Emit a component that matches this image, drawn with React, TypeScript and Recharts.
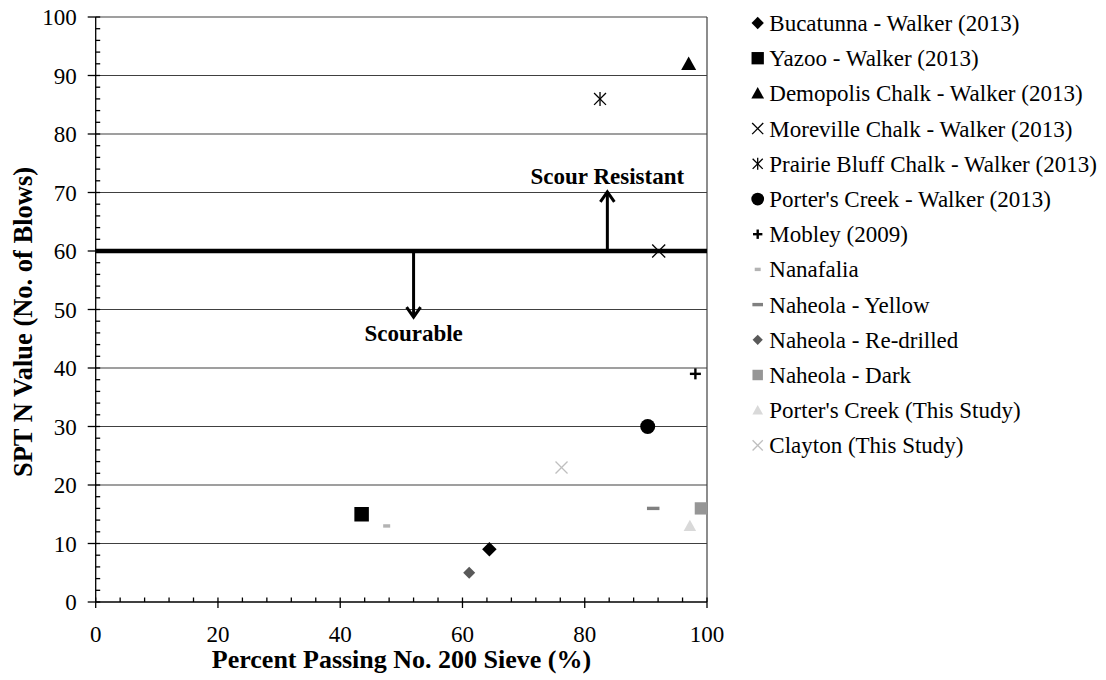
import { ScatterChart, Scatter, XAxis, YAxis, ReferenceLine } from "recharts";

// series names, in legend order
const seriesNames = [
  "Bucatunna - Walker (2013)",
  "Yazoo - Walker (2013)",
  "Demopolis Chalk - Walker (2013)",
  "Moreville Chalk - Walker (2013)",
  "Prairie Bluff Chalk - Walker (2013)",
  "Porter's Creek - Walker (2013)",
  "Mobley (2009)",
  "Nanafalia",
  "Naheola - Yellow",
  "Naheola - Re-drilled",
  "Naheola - Dark",
  "Porter's Creek (This Study)",
  "Clayton (This Study)",
];
// percent passing No. 200 sieve (x) and SPT N value (y), one point per series
const percentPassing = [64.4, 43.5, 97.0, 92.1, 82.5, 90.3, 98.1, 47.6, 91.2, 61.1, 99.0, 97.2, 76.2];
const sptN = [9, 15, 92, 60, 86, 30, 39, 13, 16, 5, 16, 13, 23];

// marker look per series
const markerKinds = ["diamond", "square", "triangle", "x", "asterisk", "circle", "plus", "dash", "dash", "diamond", "square", "triangle", "x"];
const markerColors = ["#000", "#000", "#000", "#000", "#000", "#000", "#000", "#b3b3b3", "#808080", "#595959", "#969696", "#d9d9d9", "#bfbfbf"];
const markerSizes = [14.5, 14.5, 15, 13, 14, 15, 11, 7, 12.5, 12, 12.3, 12.5, 12];

const xTicks = [0, 4, 8, 12, 16, 20, 24, 28, 32, 36, 40, 44, 48, 52, 56, 60, 64, 68, 72, 76, 80, 84, 88, 92, 96, 100];
const yTicks = [0, 2, 4, 6, 8, 10, 12, 14, 16, 18, 20, 22, 24, 26, 28, 30, 32, 34, 36, 38, 40, 42, 44, 46, 48, 50, 52, 54, 56, 58, 60, 62, 64, 66, 68, 70, 72, 74, 76, 78, 80, 82, 84, 86, 88, 90, 92, 94, 96, 98, 100];
const gridValues = [10, 20, 30, 40, 50, 60, 70, 80, 90, 100];

// threshold line and the two arrows
const threshold = 60;
const arrowX = [52, 83.7];
const arrowEnd = [48.7, 70.1];
const arrowLabels = ["Scourable", "Scour Resistant"];

const FONT = "Liberation Serif";
const txt = { fontFamily: FONT } as const;

const Marker = ({ kind, color, cx, cy, size }: any) => {
  const h = size / 2;
  if (kind === "diamond") {
    return <polygon points={`${cx},${cy - h} ${cx + h},${cy} ${cx},${cy + h} ${cx - h},${cy}`} fill={color} />;
  }
  if (kind === "square") {
    return <rect x={cx - h} y={cy - h} width={size} height={size} fill={color} />;
  }
  if (kind === "triangle") {
    const th = size * 0.9;
    return <polygon points={`${cx},${cy - th * 0.55} ${cx + h},${cy + th * 0.45} ${cx - h},${cy + th * 0.45}`} fill={color} />;
  }
  if (kind === "circle") {
    return <circle cx={cx} cy={cy} r={h} fill={color} />;
  }
  if (kind === "x") {
    return (
      <g stroke={color} strokeWidth={1.3}>
        <line x1={cx - h} y1={cy - h} x2={cx + h} y2={cy + h} />
        <line x1={cx - h} y1={cy + h} x2={cx + h} y2={cy - h} />
      </g>
    );
  }
  if (kind === "asterisk") {
    return (
      <g stroke={color} strokeWidth={1.3}>
        <line x1={cx - h * 0.85} y1={cy - h * 0.85} x2={cx + h * 0.85} y2={cy + h * 0.85} />
        <line x1={cx - h * 0.85} y1={cy + h * 0.85} x2={cx + h * 0.85} y2={cy - h * 0.85} />
        <line x1={cx} y1={cy - h} x2={cx} y2={cy + h} />
      </g>
    );
  }
  if (kind === "plus") {
    return (
      <g stroke={color} strokeWidth={2.4}>
        <line x1={cx - h} y1={cy} x2={cx + h} y2={cy} />
        <line x1={cx} y1={cy - h} x2={cx} y2={cy + h} />
      </g>
    );
  }
  // dash
  return <rect x={cx - h} y={cy - 1.7} width={size} height={3.4} fill={color} />;
};

const XTick = ({ x, y, payload }: any) => {
  const major = payload.value % 20 === 0;
  return (
    <g>
      <line x1={x} x2={x} y1={y - 4.5} y2={major ? y + 6 : y} stroke="#000" strokeWidth={1.3} />
      {major && (
        <text x={x} y={y + 40} textAnchor="middle" fontSize={23} style={txt} fill="#000">
          {payload.value}
        </text>
      )}
    </g>
  );
};

const YTick = ({ x, y, payload }: any) => {
  const major = payload.value % 10 === 0;
  return (
    <g>
      <line x1={major ? x - 8 : x} x2={x + 4.5} y1={y} y2={y} stroke="#000" strokeWidth={1.3} />
      {major && (
        <text x={x - 19} y={y + 8} textAnchor="end" fontSize={23} style={txt} fill="#000">
          {payload.value}
        </text>
      )}
    </g>
  );
};

const Arrow = (label: string, up: boolean) => (p: any) => {
  const { x1, y1, x2, y2 } = p;
  const dir = up ? 1 : -1; // arrowhead opens away from tip
  return (
    <g>
      <line x1={x1} y1={y1} x2={x2} y2={y2} stroke="#000" strokeWidth={3} />
      <polyline
        points={`${x2 - 7},${y2 + dir * 10} ${x2},${y2} ${x2 + 7},${y2 + dir * 10}`}
        fill="none"
        stroke="#000"
        strokeWidth={3}
      />
      <text
        x={x2}
        y={up ? y2 - 8 : y2 + 24}
        textAnchor="middle"
        fontSize={23}
        fontWeight="bold"
        style={txt}
        fill="#000"
      >
        {label}
      </text>
    </g>
  );
};

const App = () => {
  return (
    <div style={{ position: "relative", top: -8, width: 1090, height: 680, fontFamily: FONT }}>
      <ScatterChart width={1090} height={680} margin={{ top: 17, right: 391, bottom: 0, left: 0 }}>
        {gridValues.map((v) => (
          <ReferenceLine key={`g-${v}`} y={v} stroke="#404040" strokeWidth={1.2} />
        ))}
        <ReferenceLine x={100} stroke="#404040" strokeWidth={1.2} />
        <ReferenceLine y={threshold} stroke="#000" strokeWidth={4.5} />
        {arrowX.map((ax, i) => (
          <ReferenceLine
            key={`a-${i}`}
            segment={[
              { x: ax, y: threshold },
              { x: ax, y: arrowEnd[i] },
            ]}
            shape={Arrow(arrowLabels[i], arrowEnd[i] > threshold)}
          />
        ))}
        <XAxis
          type="number"
          dataKey="x"
          domain={[0, 100]}
          ticks={xTicks}
          interval={0}
          tickSize={0}
          tickMargin={0}
          tickLine={false}
          tick={<XTick />}
          height={78}
          axisLine={{ stroke: "#000", strokeWidth: 1.3 }}
          label={() => (
            <text x={401.5 - 8} y={668} textAnchor="middle" fontSize={26} fontWeight="bold" style={txt} fill="#000">
              Percent Passing No. 200 Sieve (%)
            </text>
          )}
        />
        <YAxis
          type="number"
          dataKey="y"
          domain={[0, 100]}
          ticks={yTicks}
          interval={0}
          tickSize={0}
          tickMargin={0}
          tickLine={false}
          tick={<YTick />}
          width={87.7}
          axisLine={{ stroke: "#000", strokeWidth: 1.3 }}
          label={() => (
            <text
              x={15}
              y={322}
              transform="rotate(-90, 15, 322)"
              textAnchor="middle"
              dy={9}
              fontSize={26.5}
              fontWeight="bold"
              style={txt}
              fill="#000"
            >
              SPT N Value (No. of Blows)
            </text>
          )}
        />
        {seriesNames.map((name, i) => (
          <Scatter
            key={name}
            name={name}
            data={[{ x: percentPassing[i], y: sptN[i] }]}
            isAnimationActive={false}
            shape={(p: any) => <Marker kind={markerKinds[i]} color={markerColors[i]} cx={p.cx} cy={p.cy} size={markerSizes[i]} />}
          />
        ))}
      </ScatterChart>
      <svg style={{ position: "absolute", left: 720, top: 0 }} width={370} height={480}>
        {seriesNames.map((name, i) => {
          const cy = 23 + i * 35.2;
          return (
            <g key={name}>
              <Marker kind={markerKinds[i]} color={markerColors[i]} cx={29.7} cy={cy} size={markerSizes[i] * 0.85} />
              <text x={41.3} y={cy + 8} fontSize={23} style={txt} fill="#000">
                {name}
              </text>
            </g>
          );
        })}
      </svg>
    </div>
  );
};

export default App;
